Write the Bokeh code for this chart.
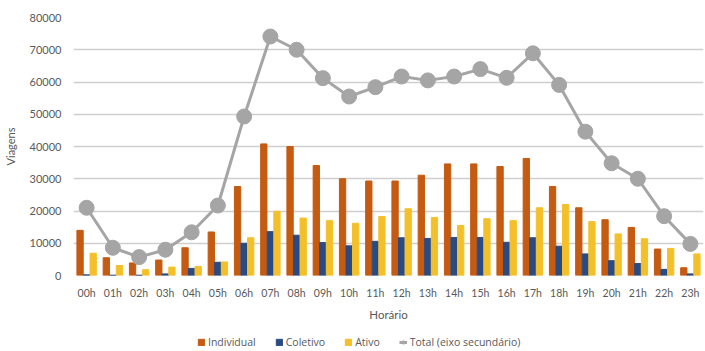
from bokeh.plotting import figure
from bokeh.layouts import column
from bokeh.models import ColumnDataSource, FactorRange, Legend, LegendItem, SingleIntervalTicker, Range1d
from bokeh.transform import dodge
from bokeh.embed import file_html
from bokeh.resources import INLINE

horas = ["%02dh" % i for i in range(24)]
individual = [14000, 5500, 3900, 4800, 8600, 13500, 27600, 40800, 40000, 34100, 30000, 29300,
              29300, 31100, 34600, 34600, 33800, 36300, 27600, 21000, 17300, 14900, 8200, 2400]
coletivo = [200, 100, 100, 500, 2200, 4100, 10000, 13600, 12500, 10200, 9200, 10600,
            11700, 11500, 11800, 11800, 10300, 11700, 9100, 6700, 4600, 3700, 1900, 500]
ativo = [6900, 3100, 1800, 2600, 2800, 4200, 11700, 19900, 17800, 17000, 16200, 18300,
         20700, 18000, 15500, 17600, 17000, 21000, 22000, 16700, 12900, 11400, 8400, 6700]
total = [21000, 8600, 5700, 8000, 13400, 21700, 49300, 74100, 70000, 61200, 55500, 58400,
         61700, 60500, 61700, 64000, 61300, 68900, 59100, 44600, 34800, 30000, 18400, 9800]
series_names = ["Individual", "Coletivo", "Ativo", "Total (eixo secundário)"]

src = ColumnDataSource(dict(hora=horas, individual=individual, coletivo=coletivo,
                            ativo=ativo, total=total))

FONT = "Lato"
LFONT = "Open Sans"
TXT = "#595959"
C_IND, C_COL, C_ATV, C_TOT = "#C55A11", "#2A4A82", "#F4C02A", "#A5A5A5"


def draw_series(fig, xr, size):
    a = fig.vbar(x=dodge("hora", -0.25, range=xr), top="individual", width=0.24,
                 source=src, color=C_IND)
    b = fig.vbar(x=dodge("hora", 0.0, range=xr), top="coletivo", width=0.24,
                 source=src, color=C_COL)
    c = fig.vbar(x=dodge("hora", 0.25, range=xr), top="ativo", width=0.24,
                 source=src, color=C_ATV)
    d = fig.line(x="hora", y="total", source=src, line_color=C_TOT, line_width=3)
    e = fig.scatter(x="hora", y="total", source=src, size=size, marker="circle",
                    fill_color=C_TOT, line_color=C_TOT)
    return a, b, c, d, e


p = figure(width=705, height=326, x_range=FactorRange(*horas, range_padding=0),
           y_range=Range1d(0, 80000), output_backend="svg", toolbar_location=None,
           min_border_left=72, min_border_right=2, min_border_top=17, min_border_bottom=51)
p.outline_line_color = None
p.background_fill_color = "white"

draw_series(p, p.x_range, 15)

p.xgrid.grid_line_color = None
p.ygrid.grid_line_color = "#cfcfcf"
p.ygrid.grid_line_width = 1.5

p.yaxis.ticker = SingleIntervalTicker(interval=10000)
p.yaxis.axis_line_color = None
p.yaxis.major_tick_line_color = None
p.yaxis.minor_tick_line_color = None
p.yaxis.major_label_text_font = FONT
p.yaxis.major_label_text_font_size = "11px"
p.yaxis.major_label_text_color = TXT
p.yaxis.major_label_standoff = 6
p.yaxis.axis_label = "Viagens"
p.yaxis.axis_label_text_font = FONT
p.yaxis.axis_label_text_font_size = "11px"
p.yaxis.axis_label_text_font_style = "normal"
p.yaxis.axis_label_text_color = TXT
p.yaxis.axis_label_standoff = 10

p.xaxis.axis_line_color = None
p.xaxis.major_tick_line_color = None
p.xaxis.minor_tick_line_color = None
p.xaxis.major_label_text_font = FONT
p.xaxis.major_label_text_font_size = "10.5px"
p.xaxis.major_label_text_color = TXT
p.xaxis.major_label_standoff = 5
p.xaxis.axis_label = "Horário"
p.xaxis.axis_label_text_font = FONT
p.xaxis.axis_label_text_font_size = "11.5px"
p.xaxis.axis_label_text_font_style = "normal"
p.xaxis.axis_label_text_color = TXT
p.xaxis.axis_label_standoff = 6

# legend strip: hidden copies of the series supply the legend glyphs
lg = figure(width=705, height=25, x_range=FactorRange(*horas), y_range=Range1d(0, 80000),
            output_backend="svg", toolbar_location=None, min_border=0,
            x_axis_location=None, y_axis_location=None)
lg.grid.visible = False
lg.outline_line_color = None
l_ind, l_col, l_atv, l_line, l_pt = draw_series(lg, lg.x_range, 10)
for r in (l_ind, l_col, l_atv, l_line, l_pt):
    r.visible = False

legend = Legend(items=[
    LegendItem(label=series_names[0], renderers=[l_ind]),
    LegendItem(label=series_names[1], renderers=[l_col]),
    LegendItem(label=series_names[2], renderers=[l_atv]),
    LegendItem(label=series_names[3], renderers=[l_line, l_pt]),
], orientation="horizontal", location=(124, 2))
legend.click_policy = "none"
legend.label_text_font = LFONT
legend.label_text_font_size = "10.5px"
legend.label_text_color = TXT
legend.glyph_width = 8
legend.glyph_height = 8
legend.label_height = 12
legend.label_standoff = 3
legend.spacing = 19
legend.padding = 0
legend.margin = 0
legend.border_line_color = None
legend.background_fill_alpha = 0
lg.add_layout(legend, "center")

open("out.html", "w").write(file_html(column(p, lg, spacing=0), INLINE))
